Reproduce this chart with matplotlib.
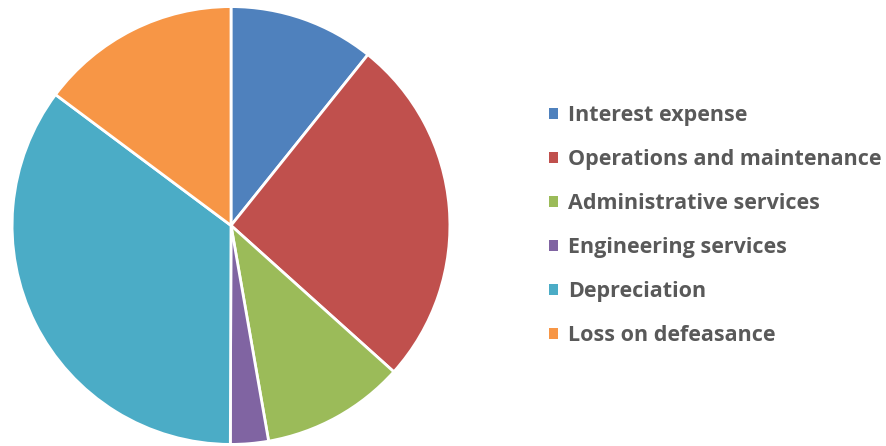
import matplotlib.pyplot as plt
from matplotlib.patches import Patch

# Expense shares (percent), clockwise from 12 o'clock
categories = ['Interest expense', 'Operations and maintenance', 'Administrative services',
              'Engineering services', 'Depreciation', 'Loss on defeasance']
shares = [10.75, 25.9, 10.6, 2.8, 35.15, 14.8]
colors = ['#4F81BD', '#C0504D', '#9BBB59', '#8064A2', '#4BACC6', '#F79646']

W, H = 887, 446
fig = plt.figure(figsize=(W / 100, H / 100), dpi=100)
ax = fig.add_axes([11 / W, 0.5 / H, 440 / W, 440 / H])
ax.pie(shares, colors=colors, startangle=90, counterclock=False, radius=1,
       wedgeprops=dict(edgecolor='white', linewidth=2))
ax.set_xlim(-1.005, 1.005)
ax.set_ylim(-1.005, 1.005)
ax.set_aspect('equal')
ax.axis('off')

handles = [Patch(facecolor=c, edgecolor='none') for c in colors]
leg = fig.legend(handles, categories, loc='upper left', bbox_to_anchor=(549 / W, 1 - 105 / H),
                 frameon=False, handlelength=0.42, handleheight=0.42, handletextpad=0.45,
                 labelspacing=1.07, borderaxespad=0, borderpad=0,
                 prop=dict(family='Open Sans', weight='bold', size=15.5))
for t in leg.get_texts():
    t.set_color('#595959')

fig.savefig('out.png', dpi=100)
